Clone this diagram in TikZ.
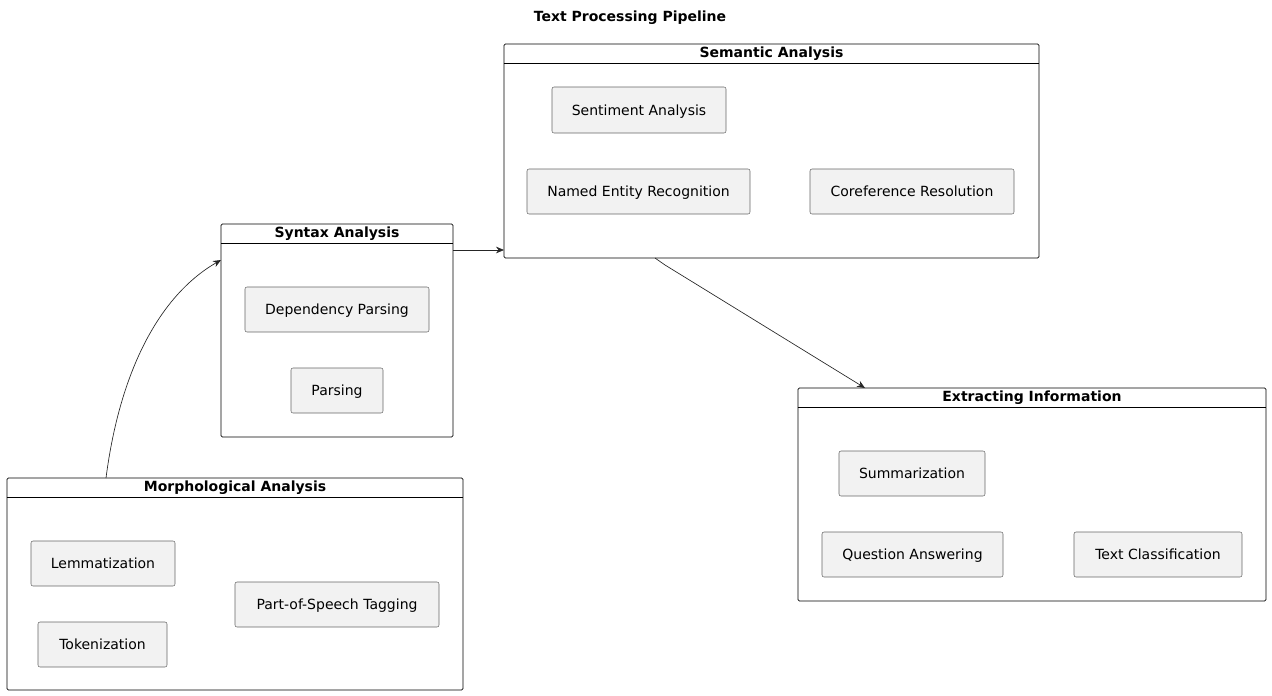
\documentclass[tikz,border=0pt]{standalone}
\usepackage{fontspec}
\setmainfont{DejaVu Sans}
\usetikzlibrary{arrows.meta, positioning, calc}

\def\u{0.75pt}
\tikzset{
  comp/.style={draw=black!60, fill=black!5, rounded corners=1.5pt, inner sep=0pt,
    font=\fontsize{10.5}{12}\selectfont, text depth=0pt, text height=7.5pt,
    path picture={
      \coordinate (ne) at (path picture bounding box.north east);
      \draw[black!70, fill=black!5, line width=0.4pt, sharp corners]
        ($(ne)+(-20*\u,5*\u)$) rectangle ($(ne)+(-7*\u,13*\u)$);
      \draw[black!70, fill=black!5, line width=0.4pt, sharp corners]
        ($(ne)+(-23*\u,6.5*\u)$) rectangle ($(ne)+(-17*\u,8.5*\u)$);
      \draw[black!70, fill=black!5, line width=0.4pt, sharp corners]
        ($(ne)+(-23*\u,9.5*\u)$) rectangle ($(ne)+(-17*\u,11.5*\u)$);
    }},
  pkg/.style={draw=black, rounded corners=1pt, inner sep=0pt, line width=0.6pt},
  pkghead/.style={font=\bfseries\fontsize{10.5}{12}\selectfont, anchor=north, inner sep=2pt},
  link/.style={-{Stealth[length=6pt,width=5pt]}, black!85, line width=0.5pt}
}

\begin{document}
\begin{tikzpicture}[x=0.75pt, y=-0.75pt]
  \useasboundingbox (0,0) rectangle (1272,696);

  \node[font=\bfseries\fontsize{10.5}{12}\selectfont] (title) at (630,18) {Text Processing Pipeline};

  % packages
  \node[pkg, minimum width=535*\u, minimum height=214*\u] (sem) at (771.5,151) {};
  \node[pkg, minimum width=232*\u, minimum height=213*\u] (syn) at (337,330.5) {};
  \node[pkg, minimum width=468*\u, minimum height=213*\u] (ext) at (1032,494.5) {};
  \node[pkg, minimum width=456*\u, minimum height=212*\u] (mor) at (235,584) {};

  \foreach \p/\t in {sem/Semantic Analysis, syn/Syntax Analysis,
                     ext/Extracting Information, mor/Morphological Analysis}{
    \node[pkghead] at (\p.north) {\t};
    \draw[line width=0.6pt] ($(\p.north west)+(0,20)$) -- ($(\p.north east)+(0,20)$);
  }

  % components
  \node[comp, minimum width=174*\u, minimum height=46*\u] (sent) at (639,110) {Sentiment Analysis};
  \node[comp, minimum width=223*\u, minimum height=45*\u] (ner) at (638.5,191.5) {Named Entity Recognition};
  \node[comp, minimum width=204*\u, minimum height=45*\u] (coref) at (912,191.5) {Coreference Resolution};
  \node[comp, minimum width=184*\u, minimum height=45*\u] (dep) at (337,309.5) {Dependency Parsing};
  \node[comp, minimum width=92*\u, minimum height=45*\u] (pars) at (337,390.5) {Parsing};
  \node[comp, minimum width=146*\u, minimum height=45*\u] (summ) at (912,473.5) {Summarization};
  \node[comp, minimum width=181*\u, minimum height=45*\u] (qa) at (912.5,554.5) {Question Answering};
  \node[comp, minimum width=168*\u, minimum height=45*\u] (tc) at (1158,554.5) {Text Classification};
  \node[comp, minimum width=144*\u, minimum height=45*\u] (lemma) at (103,563.5) {Lemmatization};
  \node[comp, minimum width=129*\u, minimum height=45*\u] (tok) at (102.5,644.5) {Tokenization};
  \node[comp, minimum width=204*\u, minimum height=45*\u] (pos) at (337,604.5) {Part-of-Speech Tagging};

  % connectors
  \coordinate (morout) at (106,478);
  \coordinate (synin) at (221,260);
  \coordinate (synout) at (453,250);
  \coordinate (semin) at (504,250);
  \coordinate (semout) at (655,258);
  \coordinate (extin) at (865,388);
  \draw[link] (morout) .. controls (120,370) and (160,295) .. (synin);
  \draw[link] (synout) -- (semin);
  \draw[link] (semout) -- (665,265) -- (extin);
\end{tikzpicture}
\end{document}
